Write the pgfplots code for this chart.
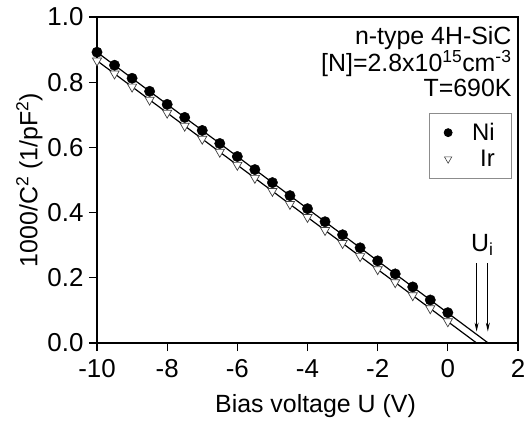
\documentclass[border=0pt]{standalone}
\usepackage{fontspec}
\setmainfont{Liberation Sans}
\usepackage{pgfplots}
\pgfplotsset{compat=1.18}
\usetikzlibrary{arrows.meta}

% measured points
\pgfplotstableread{
x     ni     ir
-10.0 0.892  0.866
-9.5  0.852  0.826
-9.0  0.812  0.786
-8.5  0.772  0.746
-8.0  0.732  0.706
-7.5  0.692  0.666
-7.0  0.652  0.626
-6.5  0.612  0.586
-6.0  0.572  0.546
-5.5  0.532  0.506
-5.0  0.492  0.466
-4.5  0.452  0.426
-4.0  0.412  0.386
-3.5  0.372  0.346
-3.0  0.332  0.306
-2.5  0.292  0.266
-2.0  0.252  0.226
-1.5  0.212  0.186
-1.0  0.172  0.146
-0.5  0.132  0.106
 0.0  0.093  0.066
}\cvdata

\begin{document}
\begin{tikzpicture}
\begin{axis}[
    name=ax,
    width=421bp, height=326bp, scale only axis,
    xmin=-10, xmax=2, ymin=0, ymax=1,
    xtick={-10,-8,-6,-4,-2,0,2},
    ytick={0,0.2,0.4,0.6,0.8,1.0},
    xtick pos=left, ytick pos=left,
    tick align=outside,
    major tick length=8bp,
    axis line style={line width=1.3bp},
    tick style={line width=1.1bp, black},
    /pgf/number format/assume math mode=true,
    tick label style={font=\fontsize{26}{30}\selectfont},
    xticklabel style={yshift=-5bp},
    yticklabel style={xshift=-2bp, /pgf/number format/.cd, fixed, fixed zerofill, precision=1},
    xlabel={Bias voltage U (V)},
    ylabel={1000/C\textsuperscript{2} (1/pF\textsuperscript{2})},
    label style={font=\fontsize{25}{29}\selectfont},
    xlabel style={yshift=-10bp, xshift=8bp},
    ylabel style={yshift=-2bp},
    legend style={draw=black!45, line width=0.8bp, at={(rel axis cs:0.986,0.706)}, anchor=north east,
        font=\fontsize{24}{28}\selectfont, inner xsep=15bp, inner ysep=8bp, row sep=4bp,
        /tikz/every odd column/.style={column sep=18bp}},
    legend cell align=right,
]
% fitted lines
\addplot[black, line width=1.2bp, forget plot] coordinates {(-10,0.892) (1.15,0)};
\addplot[black, line width=1.2bp, forget plot] coordinates {(-10,0.866) (0.82,0)};
% markers
\addplot[only marks, mark=triangle*, mark size=5.3bp,
    mark options={rotate=180, fill=white, draw=black!75, line width=0.7bp}, forget plot]
    table[x=x, y=ir] {\cvdata};
\addplot[only marks, mark=*, mark size=5.2bp, mark options={fill=black, draw=black}, forget plot]
    table[x=x, y=ni] {\cvdata};
% U_i arrows
\addplot[black, line width=0.9bp, -{Stealth[length=9bp, width=4bp]}, forget plot]
    coordinates {(0.82,0.245) (0.82,0.035)};
\addplot[black, line width=0.9bp, -{Stealth[length=9bp, width=4bp]}, forget plot]
    coordinates {(1.14,0.245) (1.14,0.035)};
\node[font=\fontsize{25}{29}\selectfont] at (axis cs:0.98,0.30) {U\textsubscript{i}};
\node[anchor=north east, align=right, font=\fontsize{25}{25}\selectfont, inner sep=0pt]
    at (rel axis cs:0.985,0.972) {n-type 4H-SiC\\{}[N]=2.8x10\textsuperscript{15}cm\textsuperscript{-3}\\{}T=690K};
\addlegendimage{only marks, mark=*, mark size=4bp, fill=black}
\addlegendentry{Ni}
\addlegendimage{only marks, mark=triangle, mark size=4.2bp, mark options={rotate=180, draw=black!75, line width=0.6bp}}
\addlegendentry{Ir}
\end{axis}
\pgfresetboundingbox
\useasboundingbox ([shift={(-97bp,-80bp)}]ax.south west) rectangle ([shift={(7bp,17bp)}]ax.north east);
\end{tikzpicture}
\end{document}
